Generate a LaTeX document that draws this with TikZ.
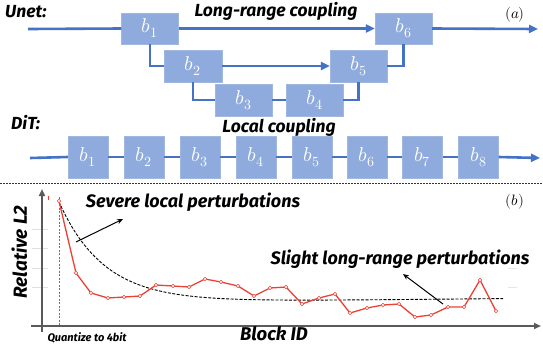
\documentclass[tikz,border=0pt]{standalone}
\usepackage{fontspec}
\usepackage{unicode-math}
\setmainfont{Fira Sans}
\setmathfont{Latin Modern Math}
\usetikzlibrary{arrows.meta,calc}
\definecolor{boxfill}{RGB}{143,170,220}
\definecolor{linkblue}{RGB}{68,114,196}
\definecolor{plotred}{RGB}{236,64,52}
\definecolor{axisgray}{RGB}{90,90,90}
\newcommand{\fs}[1]{\fontsize{#1}{#1}\selectfont}
\tikzset{
  blk/.style={fill=boxfill, draw=boxfill!85!white, line width=0.4pt, text=white, inner sep=0pt, font=\fs{20}},
  ublk/.style={blk, minimum width=57pt, minimum height=31pt},
  dblk/.style={blk, minimum width=40pt, minimum height=42pt},
  link/.style={draw=linkblue, line width=2.6pt},
  linkarrow/.style={link, -{Triangle[length=9pt,width=8pt]}},
  lbl/.style={inner sep=0pt, anchor=base},
  pt/.style={circle, draw=plotred, fill=white, line width=0.6pt, inner sep=0pt, minimum size=3.6pt}
}
\begin{document}
\begin{tikzpicture}[x=1pt,y=-1pt]
\useasboundingbox (0,0) rectangle (543,346);
% ---------- (a) Unet ----------
\node[lbl, anchor=base west, font=\bfseries\itshape\fs{17.5}] (unet) at (5,17) {Unet:};
\node[lbl, font=\bfseries\itshape\fs{17.5}] (lrc) at (276,16) {Long-range coupling};
\node[lbl, font=\fs{15}] (ta) at (515,18) {$(a)$};

\node[ublk] (u1) at (150,28.5) {$b_1$};
\node[ublk] (u6) at (403.5,28.5) {$b_6$};
\node[ublk, minimum width=58pt, minimum height=32pt] (u2) at (193,66) {$b_2$};
\node[ublk, minimum height=32pt] (u5) at (358.5,66) {$b_5$};
\node[ublk, minimum height=32pt] (u3) at (243.5,100) {$b_3$};
\node[ublk, minimum height=32pt] (u4) at (314.5,100) {$b_4$};

\coordinate (ustart) at (28,29);
\coordinate (uend) at (538,29);
\draw[link] (ustart) -- (u1.west);
\draw[linkarrow] (u1.east) -- (u6.west);
\draw[linkarrow] (u6.east) -- (uend);
\draw[link] (u1.south) |- (u2.west);
\draw[linkarrow] (u2.east) -- (u5.west);
\draw[link] (u2.south) |- (u3.west);
\draw[link] (u3.east) -- (u4.west);
\draw[link] (u4.east) -| (u5.south);
\draw[link] (u5.east) -| (u6.south);

% ---------- DiT ----------
\node[lbl, anchor=base west, font=\bfseries\itshape\fs{17.5}] (dit) at (11,129) {DiT:};
\node[lbl, font=\bfseries\itshape\fs{17.5}] (lc) at (279,132) {Local coupling};
\foreach \i/\x in {1/88,2/144,3/200,4/256,5/312,6/367,7/422.5,8/478.5}{
  \node[dblk] (d\i) at (\x,157) {$b_{\i}$};
}
\coordinate (dstart) at (30,158);
\coordinate (dend) at (540,158);
\draw[link] (dstart) -- (d1.west);
\foreach \i/\j in {1/2,2/3,3/4,4/5,5/6,6/7,7/8}{
  \draw[link] (d\i.east) -- (d\j.west);
}
\draw[linkarrow] (d8.east) -- (dend);

% separator
\coordinate (sepl) at (0,183);
\coordinate (sepr) at (543,183);
\draw[line width=0.6pt, dash pattern=on 2pt off 1pt, black!80] (sepl) -- (sepr);

% ---------- (b) plot ----------
\node[lbl, font=\fs{15}] (tb) at (515,205) {$(b)$};
% faint grid marks
\foreach \y in {229,248,268,287}{
  \draw[black!12, line width=0.5pt] (32,\y) -- (48,\y);
}
\foreach \y in {268,287}{
  \draw[black!10, line width=0.5pt] (508,\y) -- (517,\y);
}
% axes
\coordinate (yb) at (42,332);
\coordinate (yt) at (42,189);
\coordinate (xl) at (31,326);
\coordinate (xr) at (541,326);
\draw[axisgray, line width=1.8pt, -{Triangle[length=7pt,width=6pt]}] (yb) -- (yt);
\draw[axisgray, line width=1.8pt, -{Triangle[length=7pt,width=6pt]}] (xl) -- (xr);
% red dashed marker
\coordinate (qt) at (59,197);
\coordinate (qb) at (59,326);
\draw[plotred, line width=0.5pt, dash pattern=on 2pt off 1.5pt] (qt) -- (qb);
\coordinate (tk1) at (48,196);
\coordinate (tk2) at (48,200);
\draw[plotred, line width=0.5pt] (tk1) -- (tk2);
% black dashed trend
\draw[black, line width=0.9pt, dash pattern=on 3pt off 1.5pt, domain=59:503, samples=80, smooth]
  plot (\x, {303 - 0.01*(\x-59) - 101*exp(-0.022*(\x-59))});
% red data
\draw[plotred, line width=1.3pt] plot coordinates {
 (59,201) (76,273) (91,293) (108,298) (124,297) (140,296) (156,285) (173,286)
 (189,287) (205,279) (221,282) (238,286) (254,296) (270,288) (286,287) (302,304)
 (319,298) (335,294) (350,313) (367,308) (383,305) (399,304) (415,317) (431,315)
 (448,307) (464,307) (480,280) (496,311)};
\foreach \x/\y in {59/201,76/273,91/293,108/298,124/297,140/296,156/285,173/286,
 189/287,205/279,221/282,238/286,254/296,270/288,286/287,302/304,
 319/298,335/294,350/313,367/308,383/305,399/304,415/317,431/315,
 448/307,464/307,480/280,496/311}{
  \node[pt] at (\x,\y) {};
}
% labels
\node[lbl, font=\bfseries\itshape\fs{18}] (sev) at (193,207) {Severe local perturbations};
\node[lbl, font=\bfseries\itshape\fs{18}] (sli) at (400,264) {Slight long-range perturbations};
\node[lbl, font=\bfseries\itshape\fs{19}, rotate=90] (rl2) at (27,252) {Relative L2};
\node[lbl, font=\bfseries\itshape\fs{18.5}] (bid) at (274,340) {Block ID};
\node[lbl, font=\bfseries\itshape\fs{11}] (q4) at (87,341) {Quantize to 4bit};
% annotation arrows
\coordinate (a1s) at (76,242);
\coordinate (a1e) at (123,219);
\coordinate (a2s) at (443,304);
\coordinate (a2e) at (403,274);
\draw[black, line width=1pt, -{Stealth[length=6pt,width=5pt]}] (a1s) -- (a1e);
\draw[black, line width=1pt, -{Stealth[length=6pt,width=5pt]}] (a2s) -- (a2e);
\end{tikzpicture}
\end{document}
